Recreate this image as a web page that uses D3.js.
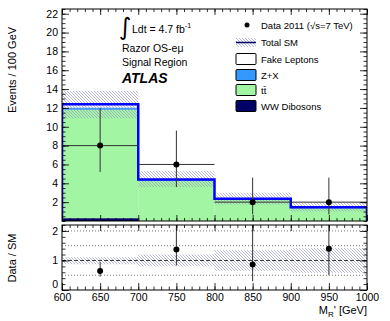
<!DOCTYPE html>
<html lang="en">
<head>
<meta charset="utf-8">
<script src="https://d3js.org/d3.v7.min.js"></script>
<style>
  body { margin: 0; background: #fff; }
  svg { font-family: "Liberation Sans", Arial, sans-serif; }
</style>
</head>
<body>
<svg id="vis" width="390" height="321"></svg>
<script>

    // bins in M_R' [GeV]
    let binLo = [600, 700, 800, 900];
    let binHi = [700, 800, 900, 1000];

    // stacked backgrounds (events / 100 GeV), bottom to top
    let ww     = [0.30, 0.00, 0.00, 0.00];
    let ttbar  = [11.50, 4.30, 2.30, 1.40];
    let zx     = [0.15, 0.05, 0.03, 0.03];
    let fake   = [0.45, 0.05, 0.02, 0.02];

    // total SM uncertainty band
    let smLow  = [10.9, 3.6, 1.75, 1.0];
    let smHigh = [13.8, 5.3, 3.0, 2.0];

    // data 2011
    let dataX    = [650, 750, 850, 950];
    let dataVal  = [8, 6, 2, 2];
    let dataLow  = [5.2, 3.6, 0.7, 0.7];
    let dataHigh = [12.0, 9.6, 4.6, 4.6];

    // ratio panel
    let ratioVal  = [0.64, 1.37, 0.86, 1.40];
    let ratioLow  = [0.45, 0.83, 0.30, 0.50];
    let ratioHigh = [0.95, 2.2, 2.2, 2.2];
    let bandLow   = [0.87, 0.80, 0.65, 0.58];
    let bandHigh  = [1.11, 1.20, 1.35, 1.42];

    let mainTicks  = [2, 4, 6, 8, 10, 12, 14, 16, 18, 20, 22];
    let ratioTicks = [0, 1, 2];
    let xTicks     = [600, 650, 700, 750, 800, 850, 900, 950, 1000];

    let layers = [
        {name: "WW Dibosons", vals: ww, color: "#000066"},
        {name: "tt", vals: ttbar, color: "#a2f5a2"},
        {name: "Z+X", vals: zx, color: "#3399ff"},
        {name: "Fake Leptons", vals: fake, color: "#ffffff"}
    ];

    var svg = d3.select("#vis");

    var left = 62, right = 367;
    var x = d3.scaleLinear().domain([600, 1000]).range([left, right]);
    var y = d3.scaleLinear().domain([0, 22.5]).range([221, 9]);
    var yr = d3.scaleLinear().domain([0, 2.2]).range([290, 225]);

    // hatch pattern
    var defs = svg.append("defs");
    var pat = defs.append("pattern")
        .attr("id", "hatch")
        .attr("patternUnits", "userSpaceOnUse")
        .attr("width", 3).attr("height", 3);
    pat.append("path")
        .attr("d", "M0,0 L3,3 M-1,2 L1,4 M2,-1 L4,1")
        .attr("stroke", "#9a9ac8")
        .attr("stroke-width", 0.7);

    defs.append("clipPath").attr("id", "clipMain")
        .append("rect").attr("x", left).attr("y", 9).attr("width", right - left).attr("height", 212);
    defs.append("clipPath").attr("id", "clipRatio")
        .append("rect").attr("x", left).attr("y", 225).attr("width", right - left).attr("height", 65);

    // ---------- main panel ----------
    var main = svg.append("g").attr("clip-path", "url(#clipMain)");

    var cum = [0, 0, 0, 0];
    var totals = [0, 0, 0, 0];
    layers.forEach(l => l.vals.forEach((v, i) => totals[i] += v));

    layers.forEach(l => {
        var base = cum.slice();
        l.vals.forEach((v, i) => cum[i] += v);
        main.selectAll(null)
            .data(binLo)
            .enter()
            .append("rect")
            .attr("x", (d, i) => x(binLo[i]))
            .attr("width", (d, i) => x(binHi[i]) - x(binLo[i]))
            .attr("y", (d, i) => y(base[i] + l.vals[i]))
            .attr("height", (d, i) => y(base[i]) - y(base[i] + l.vals[i]))
            .attr("fill", l.color);
    });

    // Z+X edge line
    main.selectAll(null)
        .data(binLo)
        .enter()
        .append("line")
        .attr("x1", (d, i) => x(binLo[i]))
        .attr("x2", (d, i) => x(binHi[i]))
        .attr("y1", (d, i) => y(ww[i] + ttbar[i] + zx[i]))
        .attr("y2", (d, i) => y(ww[i] + ttbar[i] + zx[i]))
        .attr("stroke", "#3399ff")
        .attr("stroke-width", 1.5);

    // uncertainty band
    main.selectAll(null)
        .data(binLo)
        .enter()
        .append("rect")
        .attr("x", (d, i) => x(binLo[i]))
        .attr("width", (d, i) => x(binHi[i]) - x(binLo[i]))
        .attr("y", (d, i) => y(smHigh[i]))
        .attr("height", (d, i) => y(smLow[i]) - y(smHigh[i]))
        .attr("fill", "url(#hatch)");

    // total SM outline
    var outline = [[600, 0]];
    binLo.forEach((b, i) => { outline.push([binLo[i], totals[i]]); outline.push([binHi[i], totals[i]]); });
    outline.push([1000, 0]);
    main.append("path")
        .datum(outline)
        .attr("d", d3.line().x(d => x(d[0])).y(d => y(d[1])))
        .attr("fill", "none")
        .attr("stroke", "#0000ff")
        .attr("stroke-width", 2.5);

    // data points
    var dg = main.append("g");
    dg.selectAll(null).data(dataX).enter().append("line")
        .attr("x1", (d, i) => x(binLo[i])).attr("x2", (d, i) => x(binHi[i]))
        .attr("y1", (d, i) => y(dataVal[i])).attr("y2", (d, i) => y(dataVal[i]))
        .attr("stroke", "#333").attr("stroke-width", 1);
    dg.selectAll(null).data(dataX).enter().append("line")
        .attr("x1", d => x(d)).attr("x2", d => x(d))
        .attr("y1", (d, i) => y(dataLow[i])).attr("y2", (d, i) => y(dataHigh[i]))
        .attr("stroke", "#333").attr("stroke-width", 1);
    dg.selectAll(null).data(dataX).enter().append("circle")
        .attr("cx", d => x(d)).attr("cy", (d, i) => y(dataVal[i]))
        .attr("r", 3).attr("fill", "#000");

    // ---------- ratio panel ----------
    var rat = svg.append("g").attr("clip-path", "url(#clipRatio)");

    [0.5, 1.5, 2].forEach(v => {
        rat.append("line")
            .attr("x1", left).attr("x2", right)
            .attr("y1", yr(v)).attr("y2", yr(v))
            .attr("stroke", "#555").attr("stroke-width", 0.8)
            .attr("stroke-dasharray", "1,2");
    });

    rat.selectAll(null)
        .data(binLo)
        .enter()
        .append("rect")
        .attr("x", (d, i) => x(binLo[i]))
        .attr("width", (d, i) => x(binHi[i]) - x(binLo[i]))
        .attr("y", (d, i) => yr(bandHigh[i]))
        .attr("height", (d, i) => yr(bandLow[i]) - yr(bandHigh[i]))
        .attr("fill", "url(#hatch)");

    rat.append("line")
        .attr("x1", left).attr("x2", right)
        .attr("y1", yr(1)).attr("y2", yr(1))
        .attr("stroke", "#222").attr("stroke-width", 0.9)
        .attr("stroke-dasharray", "4,2");

    rat.selectAll(null).data(dataX).enter().append("line")
        .attr("x1", d => x(d)).attr("x2", d => x(d))
        .attr("y1", (d, i) => yr(ratioLow[i])).attr("y2", (d, i) => yr(ratioHigh[i]))
        .attr("stroke", "#333").attr("stroke-width", 1);
    rat.selectAll(null).data(dataX).enter().append("circle")
        .attr("cx", d => x(d)).attr("cy", (d, i) => yr(ratioVal[i]))
        .attr("r", 3).attr("fill", "#000");

    // ---------- axes (ROOT style, ticks inside) ----------
    function clean(g) {
        g.select(".domain").remove();
        g.selectAll(".tick line").attr("stroke", "#000").attr("stroke-width", 0.8);
        g.selectAll(".tick text").attr("fill", "#000").style("font-size", "10.5px").style("font-family", "Liberation Sans, Arial, sans-serif");
    }
    function range(a, b, s) { return d3.range(Math.round(a / s), Math.round(b / s) + 1).map(k => +(k * s).toFixed(4)); }

    // main panel
    svg.append("g").attr("transform", "translate(" + left + ",0)")
        .call(d3.axisLeft(y).tickValues(mainTicks).tickSize(-7).tickPadding(4).tickFormat(d3.format("d"))).call(clean);
    svg.append("g").attr("transform", "translate(" + left + ",0)")
        .call(d3.axisLeft(y).tickValues(range(0, 22.5, 0.5)).tickSize(-3.5).tickFormat("")).call(clean);
    svg.append("g").attr("transform", "translate(" + right + ",0)")
        .call(d3.axisRight(y).tickValues(mainTicks).tickSize(-7).tickFormat("")).call(clean);
    svg.append("g").attr("transform", "translate(" + right + ",0)")
        .call(d3.axisRight(y).tickValues(range(0, 22.5, 0.5)).tickSize(-3.5).tickFormat("")).call(clean);
    [[9, d3.axisTop], [221, d3.axisBottom]].forEach(a => {
        svg.append("g").attr("transform", "translate(0," + a[0] + ")")
            .call(a[1](x).tickValues(xTicks).tickSize(-6).tickFormat("")).call(clean);
        svg.append("g").attr("transform", "translate(0," + a[0] + ")")
            .call(a[1](x).tickValues(range(600, 1000, 10)).tickSize(-3).tickFormat("")).call(clean);
    });

    // ratio panel
    var ryAxis = svg.append("g").attr("transform", "translate(" + left + ",0)")
        .call(d3.axisLeft(yr).tickValues(ratioTicks).tickSize(-7).tickPadding(4).tickFormat(d3.format("d"))).call(clean);
    // lift the "0" a little so it sits above the "600"
    ryAxis.selectAll(".tick text").filter(d => d === 0).attr("dy", "-0.25em");
    svg.append("g").attr("transform", "translate(" + left + ",0)")
        .call(d3.axisLeft(yr).tickValues(range(0, 2.2, 0.2)).tickSize(-3.5).tickFormat("")).call(clean);
    svg.append("g").attr("transform", "translate(" + right + ",0)")
        .call(d3.axisRight(yr).tickValues(ratioTicks).tickSize(-7).tickFormat("")).call(clean);
    svg.append("g").attr("transform", "translate(" + right + ",0)")
        .call(d3.axisRight(yr).tickValues(range(0, 2.2, 0.2)).tickSize(-3.5).tickFormat("")).call(clean);
    svg.append("g").attr("transform", "translate(0,225)")
        .call(d3.axisTop(x).tickValues(xTicks).tickSize(-6).tickFormat("")).call(clean);
    svg.append("g").attr("transform", "translate(0,225)")
        .call(d3.axisTop(x).tickValues(range(600, 1000, 10)).tickSize(-3).tickFormat("")).call(clean);
    svg.append("g").attr("transform", "translate(0,290)")
        .call(d3.axisBottom(x).tickValues(xTicks).tickSize(-7).tickPadding(4).tickFormat(d3.format("d"))).call(clean);
    svg.append("g").attr("transform", "translate(0,290)")
        .call(d3.axisBottom(x).tickValues(range(600, 1000, 10)).tickSize(-3.5).tickFormat("")).call(clean);

    // frames
    svg.append("rect").attr("x", left).attr("y", 9).attr("width", right - left).attr("height", 212)
        .attr("fill", "none").attr("stroke", "#000").attr("stroke-width", 1);
    svg.append("rect").attr("x", left).attr("y", 225).attr("width", right - left).attr("height", 65)
        .attr("fill", "none").attr("stroke", "#000").attr("stroke-width", 1);

    // axis titles
    svg.append("text").attr("transform", "translate(16,70) rotate(-90)")
        .attr("text-anchor", "middle").style("font-size", "11px").text("Events / 100 GeV");
    svg.append("text").attr("transform", "translate(16,258) rotate(-90)")
        .attr("text-anchor", "middle").style("font-size", "11px").text("Data / SM");
    var xt = svg.append("text").attr("x", right).attr("y", 314).attr("text-anchor", "end").style("font-size", "11px");
    xt.append("tspan").text("M");
    xt.append("tspan").attr("dy", 3).style("font-size", "8px").text("R");
    xt.append("tspan").attr("dy", -3).text("' [GeV]");

    // annotations
    svg.append("text").attr("x", 119).attr("y", 35).style("font-size", "24px").style("font-family", "DejaVu Sans, sans-serif").text("\u222B");
    var lumi = svg.append("text").attr("x", 132).attr("y", 33).style("font-size", "10.5px");
    lumi.append("tspan").text("Ldt = 4.7 fb");
    lumi.append("tspan").attr("dy", -5).style("font-size", "7px").text("-1");
    svg.append("text").attr("x", 122).attr("y", 52).style("font-size", "10.5px").text("Razor OS-e\u03BC");
    svg.append("text").attr("x", 122).attr("y", 66).style("font-size", "10.5px").text("Signal Region");
    svg.append("text").attr("x", 122).attr("y", 83).style("font-size", "14px")
        .style("font-weight", "bold").style("font-style", "italic").text("ATLAS");

    // legend
    var lg = svg.append("g");
    lg.append("circle").attr("cx", 247).attr("cy", 25).attr("r", 2.5).attr("fill", "#000");
    lg.append("text").attr("x", 261).attr("y", 28.5).style("font-size", "9.5px").text("Data 2011 (\u221As=7 TeV)");
    lg.append("rect").attr("x", 236).attr("y", 38).attr("width", 20).attr("height", 9).attr("fill", "url(#hatch)");
    lg.append("line").attr("x1", 236).attr("x2", 256).attr("y1", 42.5).attr("y2", 42.5).attr("stroke", "#000066").attr("stroke-width", 1.5);
    lg.append("text").attr("x", 261).attr("y", 46).style("font-size", "9.5px").text("Total SM");

    var boxes = [
        {label: "Fake Leptons", color: "#ffffff", cy: 59},
        {label: "Z+X", color: "#3399ff", cy: 75},
        {label: "t\u0074\u0304", color: "#a2f5a2", cy: 90},
        {label: "WW Dibosons", color: "#000066", cy: 106}
    ];
    boxes.forEach(b => {
        lg.append("rect").attr("x", 236).attr("y", b.cy - 5.5).attr("width", 20).attr("height", 11)
            .attr("fill", b.color).attr("stroke", "#000").attr("stroke-width", 1).attr("rx", 1);
        lg.append("text").attr("x", 261).attr("y", b.cy + 3.5).style("font-size", "9.5px").text(b.label);
    });

</script>
</body>
</html>
